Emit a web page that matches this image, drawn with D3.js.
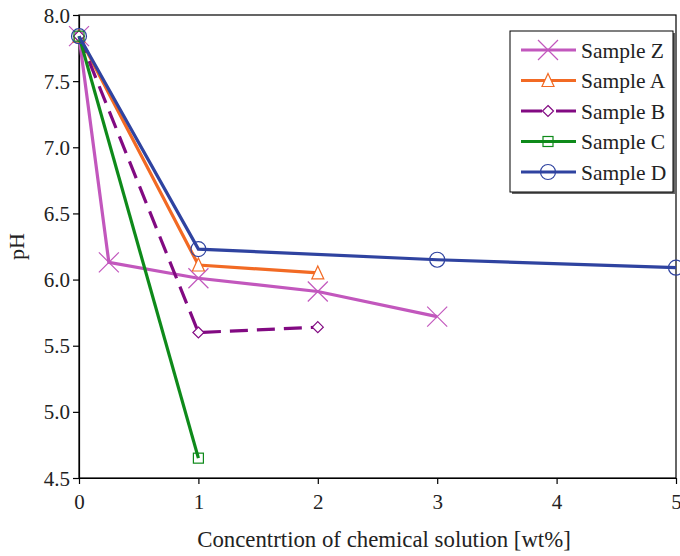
<!DOCTYPE html>
<html>
<head>
<meta charset="utf-8">
<script src="https://cdn.jsdelivr.net/npm/d3@7"></script>
<style>
  body { margin: 0; background: #fff; }
</style>
</head>
<body>
<div id="chart"></div>
<script>
// data
const seriesNames = ["Sample Z", "Sample A", "Sample B", "Sample C", "Sample D"];
const xZ = [0, 0.25, 1, 2, 3];
const yZ = [7.84, 6.13, 6.01, 5.91, 5.72];
const xA = [0, 1, 2];
const yA = [7.84, 6.11, 6.05];
const xB = [0, 1, 2];
const yB = [7.84, 5.6, 5.64];
const xC = [0, 1];
const yC = [7.84, 4.65];
const xD = [0, 1, 3, 5];
const yD = [7.84, 6.23, 6.15, 6.09];
const xTicks = [0, 1, 2, 3, 4, 5];
const yTicks = [4.5, 5.0, 5.5, 6.0, 6.5, 7.0, 7.5, 8.0];

const colors = ["#c257bd", "#f26a24", "#820a82", "#0e8a1a", "#2f43a0"];
const markers = ["cross", "triangle", "diamond", "square", "circle"];
const dashes = [null, null, "18,9", null, null];
const xs = [xZ, xA, xB, xC, xD];
const ys = [yZ, yA, yB, yC, yD];

const FONT = "Liberation Serif";
const W = 680, H = 556;
const M = {left: 79, right: 676, top: 15, bottom: 478};

const svg = d3.select("#chart").append("svg").attr("width", W).attr("height", H)
  .attr("font-family", FONT);
const x = d3.scaleLinear().domain([0, 5]).range([M.left, M.right]);
const y = d3.scaleLinear().domain([4.5, 8.0]).range([M.bottom, M.top]);

// frame
svg.append("rect").attr("x", M.left).attr("y", M.top)
  .attr("width", M.right - M.left).attr("height", M.bottom - M.top)
  .attr("fill", "none").attr("stroke", "#000").attr("stroke-width", 1.2);

const TICK = 6;
const gx = svg.append("g").attr("transform", `translate(0,${M.bottom})`)
  .call(d3.axisBottom(x).tickValues(xTicks).tickFormat(d3.format("d")).tickSize(TICK).tickSizeOuter(0));
const gy = svg.append("g").attr("transform", `translate(${M.left},0)`)
  .call(d3.axisLeft(y).tickValues(yTicks).tickFormat(d3.format(".1f")).tickSize(TICK).tickSizeOuter(0));
[gx, gy].forEach(g => {
  g.attr("font-family", FONT);
  g.select(".domain").attr("stroke-width", 1.2);
  g.selectAll("line").attr("stroke-width", 1.2);
  g.selectAll("text").attr("font-size", 21).attr("fill", "#222");
});
gx.selectAll("text").attr("y", 12).attr("dy", "0.9em");
gy.selectAll("text").attr("x", -9).attr("dy", "0.34em");

svg.append("text").attr("x", 384).attr("y", 547)
  .attr("text-anchor", "middle").attr("font-size", 22.8).attr("fill", "#222")
  .text("Concentrtion of chemical solution [wt%]");
svg.append("text").attr("transform", `translate(24,${(M.top + M.bottom) / 2}) rotate(-90)`)
  .attr("text-anchor", "middle").attr("font-size", 22).attr("fill", "#222")
  .text("pH");

function drawMarker(g, type, cx, cy, color) {
  if (type === "cross") {
    const s = 10;
    g.append("path").attr("d", `M${cx - s},${cy - s}L${cx + s},${cy + s}M${cx - s},${cy + s}L${cx + s},${cy - s}`)
      .attr("stroke", color).attr("stroke-width", 1.2).attr("fill", "none");
  } else if (type === "triangle") {
    const s = 6;
    g.append("path").attr("d", `M${cx},${cy - s - 1}L${cx + s},${cy + s}L${cx - s},${cy + s}Z`)
      .attr("stroke", color).attr("stroke-width", 1.2).attr("fill", "#fff");
  } else if (type === "diamond") {
    const s = 5.5;
    g.append("path").attr("d", `M${cx},${cy - s}L${cx + s},${cy}L${cx},${cy + s}L${cx - s},${cy}Z`)
      .attr("stroke", color).attr("stroke-width", 1.2).attr("fill", "#fff");
  } else if (type === "square") {
    const s = 5;
    g.append("rect").attr("x", cx - s).attr("y", cy - s).attr("width", 2 * s).attr("height", 2 * s)
      .attr("stroke", color).attr("stroke-width", 1.2).attr("fill", "none");
  } else if (type === "circle") {
    g.append("circle").attr("cx", cx).attr("cy", cy).attr("r", 7.5)
      .attr("stroke", color).attr("stroke-width", 1.2).attr("fill", "none");
  }
}

const line = d3.line().x(d => x(d[0])).y(d => y(d[1]));
const plot = svg.append("g");
seriesNames.forEach((name, i) => {
  const pts = xs[i].map((v, j) => [v, ys[i][j]]);
  const g = plot.append("g");
  g.append("path").datum(pts).attr("d", line)
    .attr("fill", "none").attr("stroke", colors[i]).attr("stroke-width", 3.2)
    .attr("stroke-dasharray", dashes[i]);
  pts.forEach(p => drawMarker(g, markers[i], x(p[0]), y(p[1]), colors[i]));
});

// legend
const L = {x: 510, y: 31, w: 163, h: 161};
const leg = svg.append("g");
leg.append("rect").attr("x", L.x + 2).attr("y", L.y + 2).attr("width", L.w).attr("height", L.h).attr("fill", "#666");
leg.append("rect").attr("x", L.x).attr("y", L.y).attr("width", L.w).attr("height", L.h)
  .attr("fill", "#fff").attr("stroke", "#000").attr("stroke-width", 1);
seriesNames.forEach((name, i) => {
  const cy = L.y + 19 + i * 30.5;
  leg.append("line").attr("x1", L.x + 11).attr("x2", L.x + 66).attr("y1", cy).attr("y2", cy)
    .attr("stroke", colors[i]).attr("stroke-width", 3.2).attr("stroke-dasharray", dashes[i] ? "21,7,0,7" : null);
  drawMarker(leg, markers[i], L.x + 38, cy, colors[i]);
  leg.append("text").attr("x", L.x + 71).attr("y", cy).attr("dy", "0.35em")
    .attr("font-size", 21.5).attr("fill", "#222").text(name);
});
</script>
</body>
</html>
